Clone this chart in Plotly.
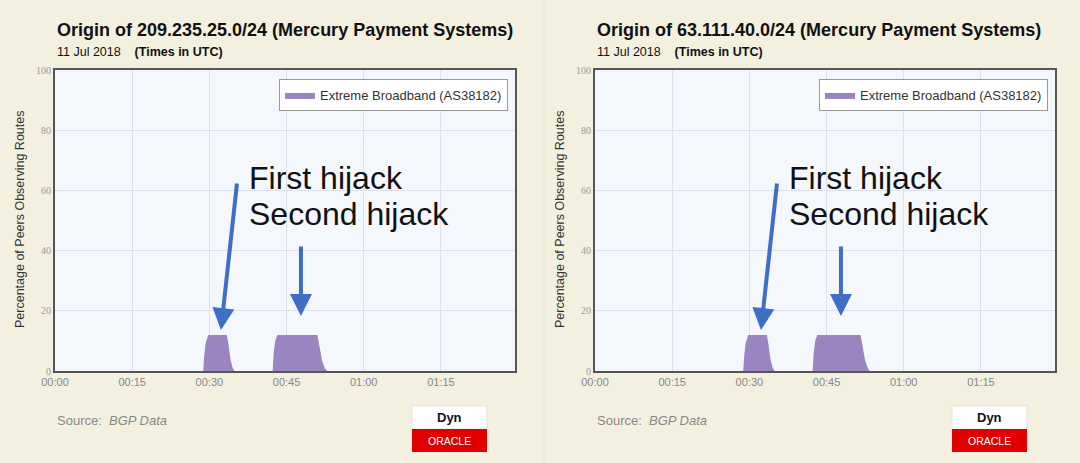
import pandas as pd
import plotly.graph_objects as go

W, H = 1080, 463
DATE = "2018-07-11"

# Extreme Broadband (AS38182) visibility, % of peers, 209.235.25.0/24
left_times = ["00:00:00", "00:28:48", "00:29:00", "00:29:18", "00:29:48", "00:33:24",
              "00:33:42", "00:34:06", "00:34:30", "00:34:54", "00:42:18", "00:42:30",
              "00:42:48", "00:43:12", "00:51:00", "00:51:24", "00:51:54", "00:52:24",
              "00:52:54", "01:29:24"]
left_values = [0, 0, 5, 9.5, 12, 12, 9, 4, 1.2, 0, 0, 6, 10, 12, 12, 8, 3.5, 1, 0, 0]

# same for 63.111.40.0/24
right_times = ["00:00:00", "00:28:48", "00:29:00", "00:29:18", "00:29:48", "00:33:24",
               "00:33:42", "00:34:06", "00:34:30", "00:34:54", "00:42:18", "00:42:30",
               "00:42:48", "00:43:12", "00:51:36", "00:52:00", "00:52:30", "00:53:00",
               "00:53:24", "01:29:24"]
right_values = [0, 0, 5, 9.5, 12, 12, 9, 4, 1.2, 0, 0, 6, 10, 12, 12, 8, 3.5, 1, 0, 0]

titles = ["Origin of 209.235.25.0/24 (Mercury Payment Systems)",
          "Origin of 63.111.40.0/24 (Mercury Payment Systems)"]
series_name = "Extreme Broadband (AS38182)"
y_ticks = [0, 20, 40, 60, 80, 100]

SANS = "Liberation Sans, Arial, sans-serif"
SERIF = "Liberation Serif, Times New Roman, serif"
BG = "#f3f0df"
PLOT_BG = "#f4f7fb"
GRID = "#dde2ea"
FILL = "#9a85c0"
ARROW = "#3e6ec6"


def ts(t):
    return f"{DATE} {t}"


def at_min(m):
    return str(pd.Timestamp(DATE) + pd.Timedelta(minutes=m))


def px(x):
    return x / W


def py(y):
    return 1 - y / H


fig = go.Figure()

panels = [(left_times, left_values, 0), (right_times, right_values, 540)]
for i, (times, vals, off) in enumerate(panels):
    sfx = "" if i == 0 else str(i + 1)
    fig.add_trace(go.Scatter(
        x=[ts(t) for t in times], y=vals,
        mode="lines", fill="tozeroy",
        line=dict(width=0, color=FILL), fillcolor=FILL,
        name=series_name, xaxis="x" + sfx, yaxis="y" + sfx,
        legend="legend" + sfx, hoverinfo="skip",
    ))

    xa = dict(
        domain=[px(55 + off), px(515 + off)],
        range=[ts("00:00:00"), ts("01:29:24")],
        type="date", tickformat="%H:%M", dtick=900000, tick0=ts("00:00:00"),
        showgrid=True, gridcolor=GRID, gridwidth=1,
        showline=True, linecolor="#555", linewidth=2, mirror=True,
        ticks="", tickfont=dict(family=SANS, size=11, color="#888"),
        anchor="y" + sfx, zeroline=False, automargin=False,
    )
    ya = dict(
        domain=[py(371), py(70)], range=[0, 100], tickvals=y_ticks,
        showgrid=True, gridcolor=GRID, gridwidth=1,
        showline=True, linecolor="#555", linewidth=2, mirror=True,
        ticks="", tickfont=dict(family=SERIF, size=10, color="#999"),
        anchor="x" + sfx, zeroline=False, fixedrange=True, automargin=False,
    )
    fig.update_layout({"xaxis" + sfx: xa, "yaxis" + sfx: ya})
    fig.update_layout({"legend" + sfx: dict(
        x=px(508 + off), xanchor="right", y=py(79), yanchor="top",
        bgcolor="white", bordercolor="#999", borderwidth=1,
        font=dict(family=SANS, size=13, color="#333"),
        itemclick=False,
    )})

    xr, yr = "x" + sfx, "y" + sfx
    # headings
    fig.add_annotation(xref="paper", yref="paper", x=px(55 + off), y=py(30),
                       xanchor="left", yanchor="middle", showarrow=False,
                       text=f"<b>{titles[i]}</b>",
                       font=dict(family=SANS, size=18, color="#111"))
    fig.add_annotation(xref="paper", yref="paper", x=px(55 + off), y=py(52),
                       xanchor="left", yanchor="middle", showarrow=False,
                       text="11 Jul 2018 &nbsp;&nbsp; <b>(Times in UTC)</b>",
                       font=dict(family=SANS, size=12.5, color="#111"))
    # y axis title
    fig.add_annotation(xref="paper", yref="paper", x=px(20 + off), y=py(220),
                       xanchor="center", yanchor="middle", showarrow=False,
                       textangle=-90, text="Percentage of Peers Observing Routes",
                       font=dict(family=SANS, size=12.5, color="#333"))
    # hijack labels and arrows
    fig.add_annotation(xref=xr, yref=yr, x=at_min(37.3), y=64.2,
                       xanchor="left", yanchor="middle", showarrow=False,
                       text="First hijack", font=dict(family=SANS, size=32, color="#111"))
    fig.add_annotation(xref=xr, yref=yr, x=at_min(37.3), y=52.2,
                       xanchor="left", yanchor="middle", showarrow=False,
                       text="Second hijack", font=dict(family=SANS, size=32, color="#111"))
    fig.add_annotation(xref=xr, yref=yr, x=at_min(32.25), y=13.6,
                       axref=xr, ayref=yr, ax=at_min(35.4), ay=62.8,
                       text="", showarrow=True, arrowhead=2, arrowsize=1.1,
                       arrowwidth=4, arrowcolor=ARROW, standoff=0)
    fig.add_annotation(xref=xr, yref=yr, x=at_min(47.8), y=18.3,
                       axref=xr, ayref=yr, ax=at_min(47.8), ay=41.9,
                       text="", showarrow=True, arrowhead=2, arrowsize=1.1,
                       arrowwidth=4, arrowcolor=ARROW, standoff=0)
    # footer
    fig.add_annotation(xref="paper", yref="paper", x=px(55 + off), y=py(420),
                       xanchor="left", yanchor="middle", showarrow=False,
                       text="Source:&nbsp; <i>BGP Data</i>",
                       font=dict(family=SANS, size=13, color="#888"))
    fig.add_shape(type="rect", xref="paper", yref="paper",
                  x0=px(412 + off), x1=px(487 + off), y0=py(429), y1=py(406),
                  fillcolor="white", line=dict(width=1, color="#e4e4e4"))
    fig.add_shape(type="rect", xref="paper", yref="paper",
                  x0=px(412 + off), x1=px(487 + off), y0=py(452), y1=py(429),
                  fillcolor="#e00000", line=dict(width=0))
    fig.add_annotation(xref="paper", yref="paper", x=px(449.5 + off), y=py(417),
                       xanchor="center", yanchor="middle", showarrow=False,
                       text="<b>Dyn</b>", font=dict(family=SANS, size=13, color="#111"))
    fig.add_annotation(xref="paper", yref="paper", x=px(449.5 + off), y=py(440.5),
                       xanchor="center", yanchor="middle", showarrow=False,
                       text="ORACLE", font=dict(family=SANS, size=10.5, color="white"))

# faint seam between the two panels
fig.add_shape(type="line", xref="paper", yref="paper", x0=px(544), x1=px(544),
              y0=0, y1=1, line=dict(width=1, color="#ebe7d4"))

fig.update_layout(
    width=W, height=H,
    margin=dict(l=0, r=0, t=0, b=0),
    paper_bgcolor=BG, plot_bgcolor=PLOT_BG,
    showlegend=True,
    font=dict(family=SANS),
)

fig.write_html("out.html", config={"displayModeBar": False},
               post_script="document.body.style.margin='0';")
